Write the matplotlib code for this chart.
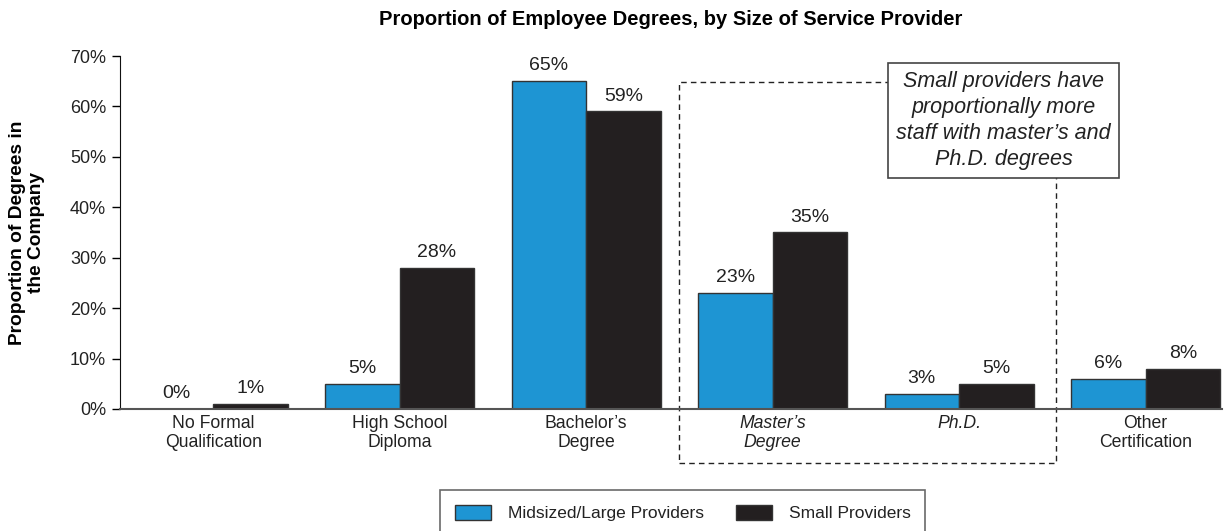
import matplotlib

matplotlib.use('Agg')
import matplotlib.pyplot as plt
import numpy as np
from matplotlib.patches import Rectangle, Patch

plt.rcParams['font.family'] = ['Liberation Sans', 'DejaVu Sans']

# 数据
CATEGORIES = ["No Formal\nQualification", "High School\nDiploma", "Bachelor\u2019s\nDegree",
              "Master\u2019s\nDegree", "Ph.D.", "Other\nCertification"]
ITALIC_CATS = [3, 4]
MID_LARGE = [0, 5, 65, 23, 3, 6]
SMALL = [1, 28, 59, 35, 5, 8]
SERIES_NAMES = ["Midsized/Large Providers", "Small Providers"]
Y_TICKS = [0, 10, 20, 30, 40, 50, 60, 70]

BLUE = "#1E95D3"
DARK = "#231F20"
EDGE = "#333333"
TXT = "#222222"
BAR_W = 0.4

fig = plt.figure(figsize=(12.3, 5.31), dpi=100)
ax = fig.add_axes([0.0976, 0.2298, 0.8959, 0.6647])

x = np.arange(len(CATEGORIES))
b1 = ax.bar(x - BAR_W / 2, MID_LARGE, BAR_W, color=BLUE, edgecolor=EDGE, linewidth=1)
b2 = ax.bar(x + BAR_W / 2, SMALL, BAR_W, color=DARK, edgecolor=EDGE, linewidth=1)

for bars, vals in [(b1, MID_LARGE), (b2, SMALL)]:
    for rect, v in zip(bars, vals):
        ax.annotate(f"{v}%", (rect.get_x() + rect.get_width() / 2, v),
                    xytext=(0, 5), textcoords="offset points",
                    ha="center", va="bottom", fontsize=14, color=TXT)

ax.set_xlim(-0.5, len(CATEGORIES) - 0.59)
ax.set_ylim(0, 70)
ax.set_yticks(Y_TICKS)
ax.set_yticklabels([f"{t}%" for t in Y_TICKS], fontsize=13, color=TXT)
ax.tick_params(axis='y', direction='out', length=6, width=1, pad=4)
ax.set_xticks(x)
ax.set_xticklabels(CATEGORIES, fontsize=12.7, color=TXT, linespacing=1.2)
for i, lbl in enumerate(ax.get_xticklabels()):
    if i in ITALIC_CATS:
        lbl.set_style('italic')
ax.tick_params(axis='x', length=0, pad=4)

for s in ['top', 'right']:
    ax.spines[s].set_visible(False)
ax.spines['left'].set_color("#111111")
ax.spines['bottom'].set_color("#555555")
ax.spines['bottom'].set_linewidth(1.5)

ax.set_ylabel("Proportion of Degrees in\nthe Company", fontsize=13.8, fontweight='bold',
              linespacing=1.15)
ax.yaxis.set_label_coords(-0.068, 0.5)
ax.set_title("Proportion of Employee Degrees, by Size of Service Provider",
             fontsize=14.5, fontweight='bold', pad=22)

# 虚线框：硕士和博士
dash = Rectangle((ITALIC_CATS[0] - 0.5, -10.7), (ITALIC_CATS[-1] - ITALIC_CATS[0]) + 1.02, 75.6,
                 fill=False, linestyle=(0, (4, 3)), linewidth=1, edgecolor=TXT,
                 clip_on=False, zorder=1)
ax.add_patch(dash)

ax.text(4.238, 57.2, "Small providers have\nproportionally more\nstaff with master\u2019s and\nPh.D. degrees",
        ha="center", va="center", fontsize=15.5, style='italic', color=TXT,
        linespacing=1.3,
        bbox=dict(boxstyle="square,pad=0.4", facecolor="white", edgecolor="#444444", linewidth=1.2),
        zorder=5)

handles = [Patch(facecolor=BLUE, edgecolor=EDGE), Patch(facecolor=DARK, edgecolor=EDGE)]
leg = fig.legend(handles, SERIES_NAMES, loc="upper center", bbox_to_anchor=(0.555, 0.0772),
                 ncol=2, frameon=True, fancybox=False, fontsize=12.5, edgecolor="#444444",
                 handlelength=2.1, handleheight=0.95, columnspacing=1.85, borderpad=0.85,
                 handletextpad=0.95, borderaxespad=0)
leg.get_frame().set_linewidth(1.2)
for t in leg.get_texts():
    t.set_color(TXT)

fig.savefig("out.png", dpi=100)
